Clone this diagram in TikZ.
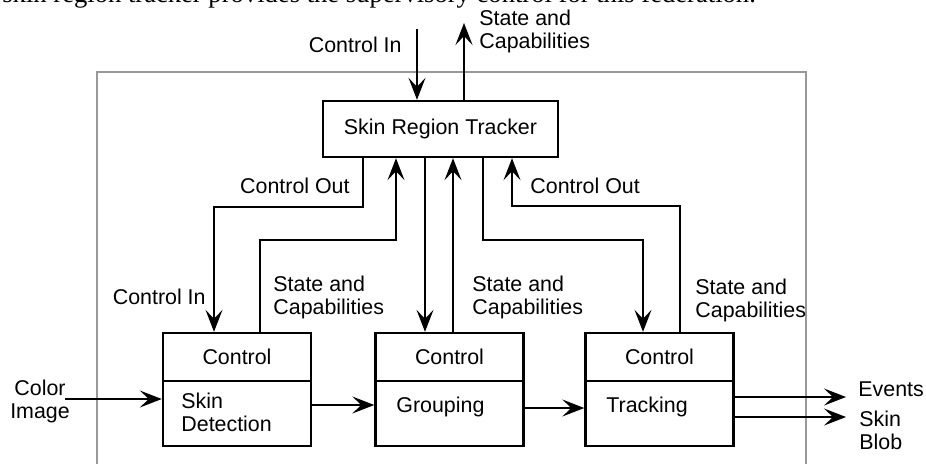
\documentclass[tikz,border=0pt]{standalone}
\usepackage{fontspec}
\setmainfont{Liberation Sans}
\newfontfamily\textserif{Liberation Serif}
\usepackage{tikz}
\usetikzlibrary{
  arrows.meta,
  positioning,  % Function "of" (e.g. [below=of x])
}
\tikzset{
  font=\fontsize{10.7}{11.5}\selectfont,
  >={Stealth[length=11pt,width=8.5pt,inset=4.5pt]},
  my frame/.style={
    draw=black!40,
    line width=1pt
  },
  my box/.style={
    draw,
    line width=1.2pt,
    inner sep=0pt,
    rectangle
  },
  my ctl/.style={
    my box,
    minimum width=74pt,
    minimum height=24pt
  },
  my body/.style={
    my box,
    minimum width=74pt,
    minimum height=32.5pt
  },
  my label/.style={
    inner sep=0pt,
    align=left
  },
  my wire/.style={
    line width=0.9pt
  }
}

\begin{document}
\begin{tikzpicture}[x=0.5pt,y=-0.5pt]
\useasboundingbox (0,0) rectangle (926,463);
% line of the page above, cut by the page edge
\node[anchor=base west,inner sep=0pt,font=\textserif\fontsize{13.3}{15}\selectfont]
  (caption) at (2,2) {skin region tracker provides the supervisory control for this federation.};
\draw[my frame] (97,475) -- (97,72) -- (806,72) -- (806,475);

\node[my box,minimum width=117.5pt,minimum height=28pt] (tracker) at (440.5,129) {Skin Region Tracker};

\node[my ctl] (detC) at (237,357) {Control};
\node[my body,below=-1.2pt of detC] (detB) {};
\node[my ctl] (grpC) at (449.5,357) {Control};
\node[my body,below=-1.2pt of grpC] (grpB) {};
\node[my ctl] (trkC) at (659.5,357) {Control};
\node[my body,below=-1.2pt of trkC] (trkB) {};

\node[my label,anchor=west] (detT) at (181,412.5) {Skin\\Detection};
\node[my label,anchor=west] (grpT) at (396,407) {Grouping};
\node[my label,anchor=west] (trkT) at (606,407) {Tracking};

% into and out of the tracker
\coordinate (ctlin) at (417,29);
\coordinate (stout) at (464,23);
\draw[my wire,->] (ctlin) -- (ctlin |- tracker.north);
\draw[my wire,->] (stout |- tracker.north) -- (stout);
\node[my label,anchor=east] (lblIn) at (402,45) {Control In};
\node[my label,anchor=west] (lblSt) at (479,31) {State and\\Capabilities};

% tracker <-> modules
\draw[my wire,->] (tracker.south -| 363,0) |- (214,207) -- (detC.north -| 214,0);
\draw[my wire,->] (detC.north -| 260,0) |- (396,240) -- (tracker.south -| 396,0);
\draw[my wire,->] (tracker.south -| 425,0) -- (grpC.north -| 425,0);
\draw[my wire,->] (grpC.north -| 453,0) -- (tracker.south -| 453,0);
\draw[my wire,->] (tracker.south -| 483,0) |- (643,240) -- (trkC.north -| 643,0);
\draw[my wire,->] (trkC.north -| 680,0) |- (512,206) -- (tracker.south -| 512,0);

\node[my label,anchor=east] (lblOutL) at (350,186) {Control Out};
\node[my label,anchor=east] (lblInL) at (206,297) {Control In};
\node[my label,anchor=west] (lblStD) at (273,297) {State and\\Capabilities};
\node[my label,anchor=west] (lblStG) at (472,297) {State and\\Capabilities};
\node[my label,anchor=west] (lblOutR) at (530,186) {Control Out};
\node[my label,anchor=west] (lblStT) at (695,300) {State and\\Capabilities};

% data path
\node[my label,align=center] (lblColor) at (40,401) {Color\\Image};
\coordinate (colorin) at (65,399);
\draw[my wire,->] (colorin) -- (colorin -| detB.west);
\draw[my wire,->] ([yshift=4.25pt]detB.east) -- ([yshift=4.25pt]grpB.west);
\draw[my wire,->] ([yshift=2.75pt]grpB.east) -- ([yshift=2.75pt]trkB.west);
\coordinate (evt) at (846,397);
\coordinate (blob) at (846,417);
\draw[my wire,->] (trkB.east |- evt) -- (evt);
\draw[my wire,->] (trkB.east |- blob) -- (blob);
\node[my label,anchor=west] (lblEvt) at (858,389) {Events};
\node[my label,anchor=west] (lblBlob) at (859,430) {Skin\\Blob};
\end{tikzpicture}
\end{document}
